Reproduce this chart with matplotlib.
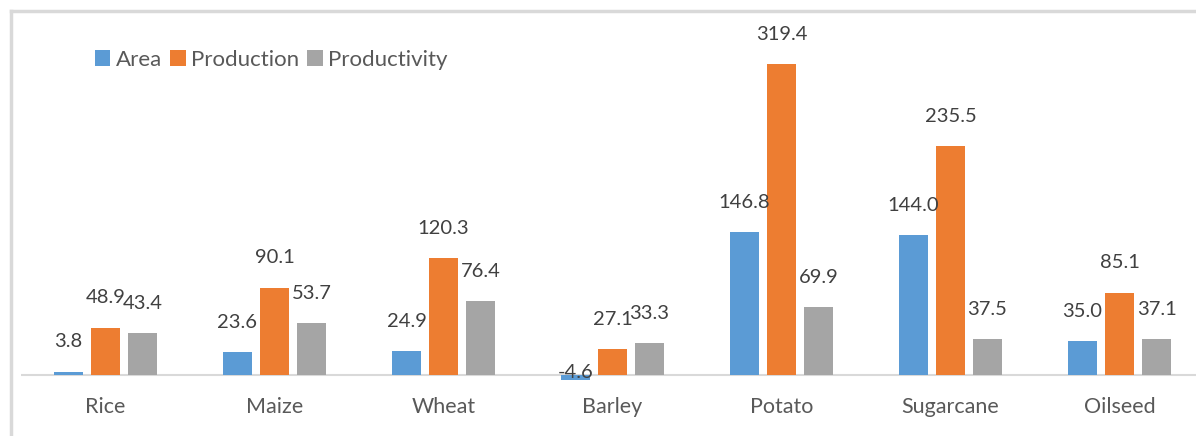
import matplotlib
matplotlib.use('Agg')
import matplotlib.pyplot as plt
import numpy as np
from matplotlib.lines import Line2D

# crop categories and percentage changes
crops = ['Rice', 'Maize', 'Wheat', 'Barley', 'Potato', 'Sugarcane', 'Oilseed']
area = [3.8, 23.6, 24.9, -4.6, 146.8, 144.0, 35.0]
production = [48.9, 90.1, 120.3, 27.1, 319.4, 235.5, 85.1]
productivity = [43.4, 53.7, 76.4, 33.3, 69.9, 37.5, 37.1]

series_names = ['Area', 'Production', 'Productivity']
colors = ['#5B9BD5', '#ED7D31', '#A5A5A5']

plt.rcParams['font.family'] = ['Lato', 'DejaVu Sans']

W, H = 1196, 436
fig = plt.figure(figsize=(W / 100, H / 100), dpi=100)
ax = fig.add_axes([21 / W, 46 / H, 1183 / W, 370 / H])

x = np.arange(len(crops))
bar_w = 0.172
step = 0.219

for i, (vals, name, col) in enumerate(zip([area, production, productivity], series_names, colors)):
    pos = x + (i - 1) * step
    ax.bar(pos, vals, width=bar_w, color=col, label=name, zorder=2)
    for px, v in zip(pos, vals):
        if v < 0:
            # negative label sits right at the baseline
            ax.annotate(f'{v:.1f}', (px, 0), xytext=(0, 2), textcoords='offset points',
                        ha='center', va='center', fontsize=14.5, color='#404040', zorder=3)
        else:
            ax.annotate(f'{v:.1f}', (px, v), xytext=(0, 21.5), textcoords='offset points',
                        ha='center', va='center', fontsize=14.5, color='#404040', zorder=3)

ax.axhline(0, color='#D9D9D9', lw=1.5, zorder=1)
ax.set_xlim(-0.5, len(crops) - 0.5)
ax.set_ylim(-15, 365)
ax.set_xticks(x)
ax.set_xticklabels(crops, fontsize=15.5, color='#595959')
ax.tick_params(axis='x', length=0, pad=5)
ax.set_yticks([])
for s in ax.spines.values():
    s.set_visible(False)

ax.legend(loc='center left', bbox_to_anchor=(86 / W, 1 - 60 / H), bbox_transform=fig.transFigure,
          ncol=3, frameon=False, fontsize=16, handlelength=0.7, handleheight=0.7,
          handletextpad=0.25, columnspacing=0.35, labelcolor='#595959', borderaxespad=0)

# light grey chart frame (left and top edges visible)
fig.add_artist(Line2D([11 / W, 11 / W], [0, 1 - 11 / H], transform=fig.transFigure, color='#D9D9D9', lw=2.5))
fig.add_artist(Line2D([11 / W, 1], [1 - 11 / H, 1 - 11 / H], transform=fig.transFigure, color='#D9D9D9', lw=2.5))

fig.savefig('out.png', dpi=100)
